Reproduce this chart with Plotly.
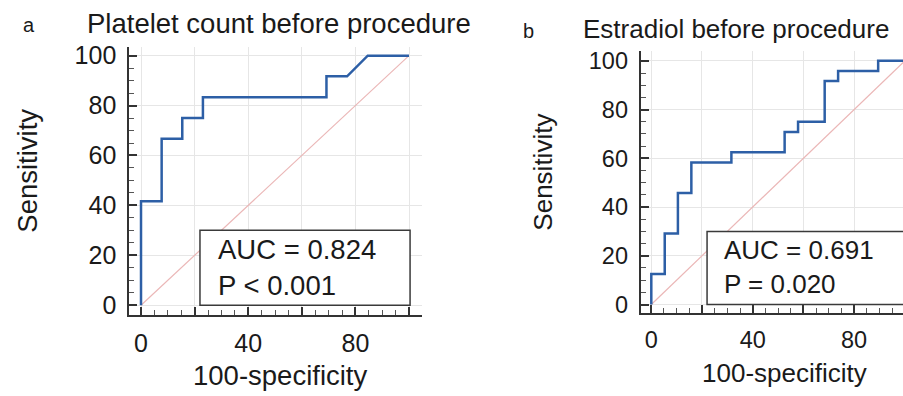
import plotly.graph_objects as go

W, H = 903, 396

# ---- data ----
a_fpr = [0, 0, 7.7, 7.7, 15.4, 15.4, 23.1, 23.1, 69.2, 69.2, 76.9, 84.6, 100]
a_tpr = [0, 41.7, 41.7, 66.7, 66.7, 75.0, 75.0, 83.3, 83.3, 91.7, 91.7, 100, 100]
b_fpr = [0, 0, 5.3, 5.3, 10.5, 10.5, 15.8, 15.8, 31.6, 31.6, 52.6, 52.6, 57.9, 57.9,
         68.4, 68.4, 73.7, 73.7, 89.5, 89.5, 100]
b_tpr = [0, 12.5, 12.5, 29.2, 29.2, 45.8, 45.8, 58.3, 58.3, 62.5, 62.5, 70.8, 70.8, 75.0,
         75.0, 91.7, 91.7, 95.8, 95.8, 100, 100]
diag = [0, 100]
titles = ["Platelet count before procedure", "Estradiol before procedure"]
panel_labels = ["a", "b"]
auc_text = ["AUC = 0.824<br>P < 0.001", "AUC = 0.691<br>P = 0.020"]
tick_vals = [0, 20, 40, 60, 80, 100]
x_tick_text = ["0", "", "40", "", "80", ""]
y_tick_text = ["0", "20", "40", "60", "80", "100"]

FONT = "Liberation Sans, Arial, sans-serif"
BLUE = "#2d5fa6"
PINK = "#ebb7b7"
GRID = "#e6e6e6"
AX = "#333333"
TXT = "#1a1a1a"

# per-panel text sizes (panel b is drawn slightly smaller)
TEXT_SIZE = [27.5, 26]
TICK_SIZE = [25, 23.5]

def px(x):
    return x / W

def py(y):
    return 1 - y / H

fig = go.Figure()

for i, (xs, ys) in enumerate([(a_fpr, a_tpr), (b_fpr, b_tpr)]):
    xa = "x" if i == 0 else "x2"
    ya = "y" if i == 0 else "y2"
    fig.add_trace(go.Scatter(x=diag, y=diag, mode="lines", xaxis=xa, yaxis=ya,
                             line=dict(color=PINK, width=1.2), hoverinfo="skip", showlegend=False))
    fig.add_trace(go.Scatter(x=xs, y=ys, mode="lines", xaxis=xa, yaxis=ya,
                             line=dict(color=BLUE, width=2.5), showlegend=False))

axis_common = dict(
    tickmode="array", tickvals=tick_vals, ticks="inside", ticklen=8, tickwidth=1.5,
    tickcolor=AX, showline=True, linecolor=AX, linewidth=2, showgrid=True,
    gridcolor=GRID, gridwidth=1, zeroline=False,
    minor=dict(ticks="inside", ticklen=5, tickwidth=1, tickcolor="#555555", dtick=5, tick0=0,
               showgrid=False),
)

def tf(i):
    return dict(family=FONT, size=TICK_SIZE[i], color=TXT)

fig.update_layout(
    width=W, height=H, margin=dict(l=0, r=0, t=0, b=0),
    paper_bgcolor="white", plot_bgcolor="white",
    xaxis=dict(axis_common, domain=[px(129.3), px(422)], range=[-4.37, 104.85],
               ticktext=x_tick_text, anchor="y", ticklabelstandoff=5, tickfont=tf(0)),
    yaxis=dict(axis_common, domain=[py(318), py(43)], range=[-3.9, 103.5],
               ticktext=y_tick_text, anchor="x", ticklabelstandoff=6, tickfont=tf(0)),
    xaxis2=dict(axis_common, domain=[px(640.7), 1.0], range=[-4.18, 99.3],
                ticktext=x_tick_text, anchor="y2", ticklabelstandoff=5, tickfont=tf(1)),
    yaxis2=dict(axis_common, domain=[py(316), py(47.7)], range=[-3.48, 103.84],
                ticktext=y_tick_text, anchor="x2", ticklabelstandoff=6, tickfont=tf(1)),
)

shapes = []
annotations = []
for i in range(2):
    xr = "x" if i == 0 else "x2"
    yr = "y" if i == 0 else "y2"
    shapes.append(dict(type="rect", xref=xr, yref=yr, x0=22, x1=100.4, y0=0, y1=30,
                       line=dict(color="#3a3a3a", width=1.5), fillcolor="white", layer="above"))
    annotations.append(dict(text=auc_text[i], xref=xr, yref=yr, x=28, y=15.3,
                            xanchor="left", yanchor="middle", showarrow=False, align="left",
                            font=dict(family=FONT, size=TEXT_SIZE[i], color=TXT)))

# titles
annotations.append(dict(text=titles[0], xref="paper", yref="paper", x=px(85), y=py(19),
                        xanchor="left", yanchor="middle", showarrow=False,
                        font=dict(family=FONT, size=TEXT_SIZE[0], color=TXT)))
annotations.append(dict(text=titles[1], xref="paper", yref="paper", x=px(581), y=py(25),
                        xanchor="left", yanchor="middle", showarrow=False,
                        font=dict(family=FONT, size=TEXT_SIZE[1], color=TXT)))
# panel labels
annotations.append(dict(text=panel_labels[0], xref="paper", yref="paper", x=px(29), y=py(21),
                        xanchor="center", yanchor="middle", showarrow=False,
                        font=dict(family=FONT, size=20, color=TXT)))
annotations.append(dict(text=panel_labels[1], xref="paper", yref="paper", x=px(528), y=py(27),
                        xanchor="center", yanchor="middle", showarrow=False,
                        font=dict(family=FONT, size=20, color=TXT)))
# axis titles
for i, (cx, cy) in enumerate([(28, 170), (543, 172)]):
    annotations.append(dict(text="Sensitivity", xref="paper", yref="paper", x=px(cx), y=py(cy),
                            xanchor="center", yanchor="middle", showarrow=False, textangle=-90,
                            font=dict(family=FONT, size=TEXT_SIZE[i], color=TXT)))
for i, (cx, cy) in enumerate([(280, 380), (784, 378)]):
    annotations.append(dict(text="100-specificity", xref="paper", yref="paper", x=px(cx), y=py(cy),
                            xanchor="center", yanchor="middle", showarrow=False,
                            font=dict(family=FONT, size=TEXT_SIZE[i], color=TXT)))

fig.update_layout(shapes=shapes, annotations=annotations)
fig.write_html("out.html")
